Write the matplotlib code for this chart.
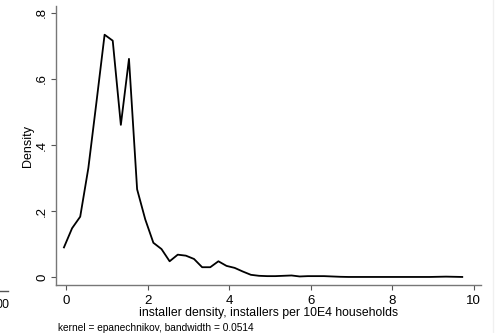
import numpy as np
import matplotlib.pyplot as plt

plt.rcParams['font.family'] = ['Liberation Sans', 'DejaVu Sans']

# kernel density estimate, 50 evaluation points
x_start, x_end, n_points = -0.05, 9.72, 50
density = [
    0.090, 0.148, 0.183, 0.330, 0.530, 0.734, 0.716, 0.461, 0.661, 0.266,
    0.175, 0.104, 0.085, 0.048, 0.068, 0.065, 0.055, 0.030, 0.030, 0.048,
    0.034, 0.028, 0.017, 0.007, 0.004, 0.003, 0.003, 0.004, 0.005, 0.002,
    0.003, 0.003, 0.003, 0.002, 0.001, 0.0005, 0.0005, 0.0005, 0.0005, 0.0005,
    0.0005, 0.0005, 0.0005, 0.0005, 0.0005, 0.0005, 0.001, 0.0015, 0.001, 0.0005,
]
x_ticks = [0, 2, 4, 6, 8, 10]
y_ticks = [0, 0.2, 0.4, 0.6, 0.8]
y_ticklabels = ["0", ".2", ".4", ".6", ".8"]

x = np.linspace(x_start, x_end, n_points)

fig = plt.figure(figsize=(5, 3.33), dpi=100)
ax = fig.add_axes([0.112, 0.144, 0.85, 0.838])
ax.plot(x, density, color='black', lw=1.3)

ax.set_xlim(-0.245, 10.18)
ax.set_ylim(-0.024, 0.821)
ax.set_xticks(x_ticks)
ax.set_yticks(y_ticks)
ax.set_yticklabels(y_ticklabels, rotation=90, va='center')
ax.tick_params(colors='#555555', labelcolor='black', labelsize=9.5, length=3.6, width=0.8)
ax.tick_params(axis='y', pad=2)
ax.tick_params(axis='x', pad=3.5)

for side in ['top', 'right']:
    ax.spines[side].set_visible(False)
for side in ['left', 'bottom']:
    ax.spines[side].set_color('#777777')
    ax.spines[side].set_linewidth(1.0)

ax.set_ylabel("Density", fontsize=9, labelpad=1.5)
ax.set_xlabel("installer density, installers per 10E4 households", fontsize=8.8, labelpad=0)
fig.text(0.116, 0.015, "kernel = epanechnikov, bandwidth = 0.0514", fontsize=7.3, va='center')

# bits of a neighbouring graph cut off at the left edge
fig.add_artist(plt.Line2D([0.0, 0.016], [1 - 291 / 333] * 2, color='#555555', lw=1.0))
fig.text(-0.008, 1 - 305 / 333, "00", fontsize=9, va='center')
fig.add_artist(plt.Line2D([0.986] * 2, [0, 1], color='#f0f0f0', lw=1.0))

fig.savefig("out.png", dpi=100)
